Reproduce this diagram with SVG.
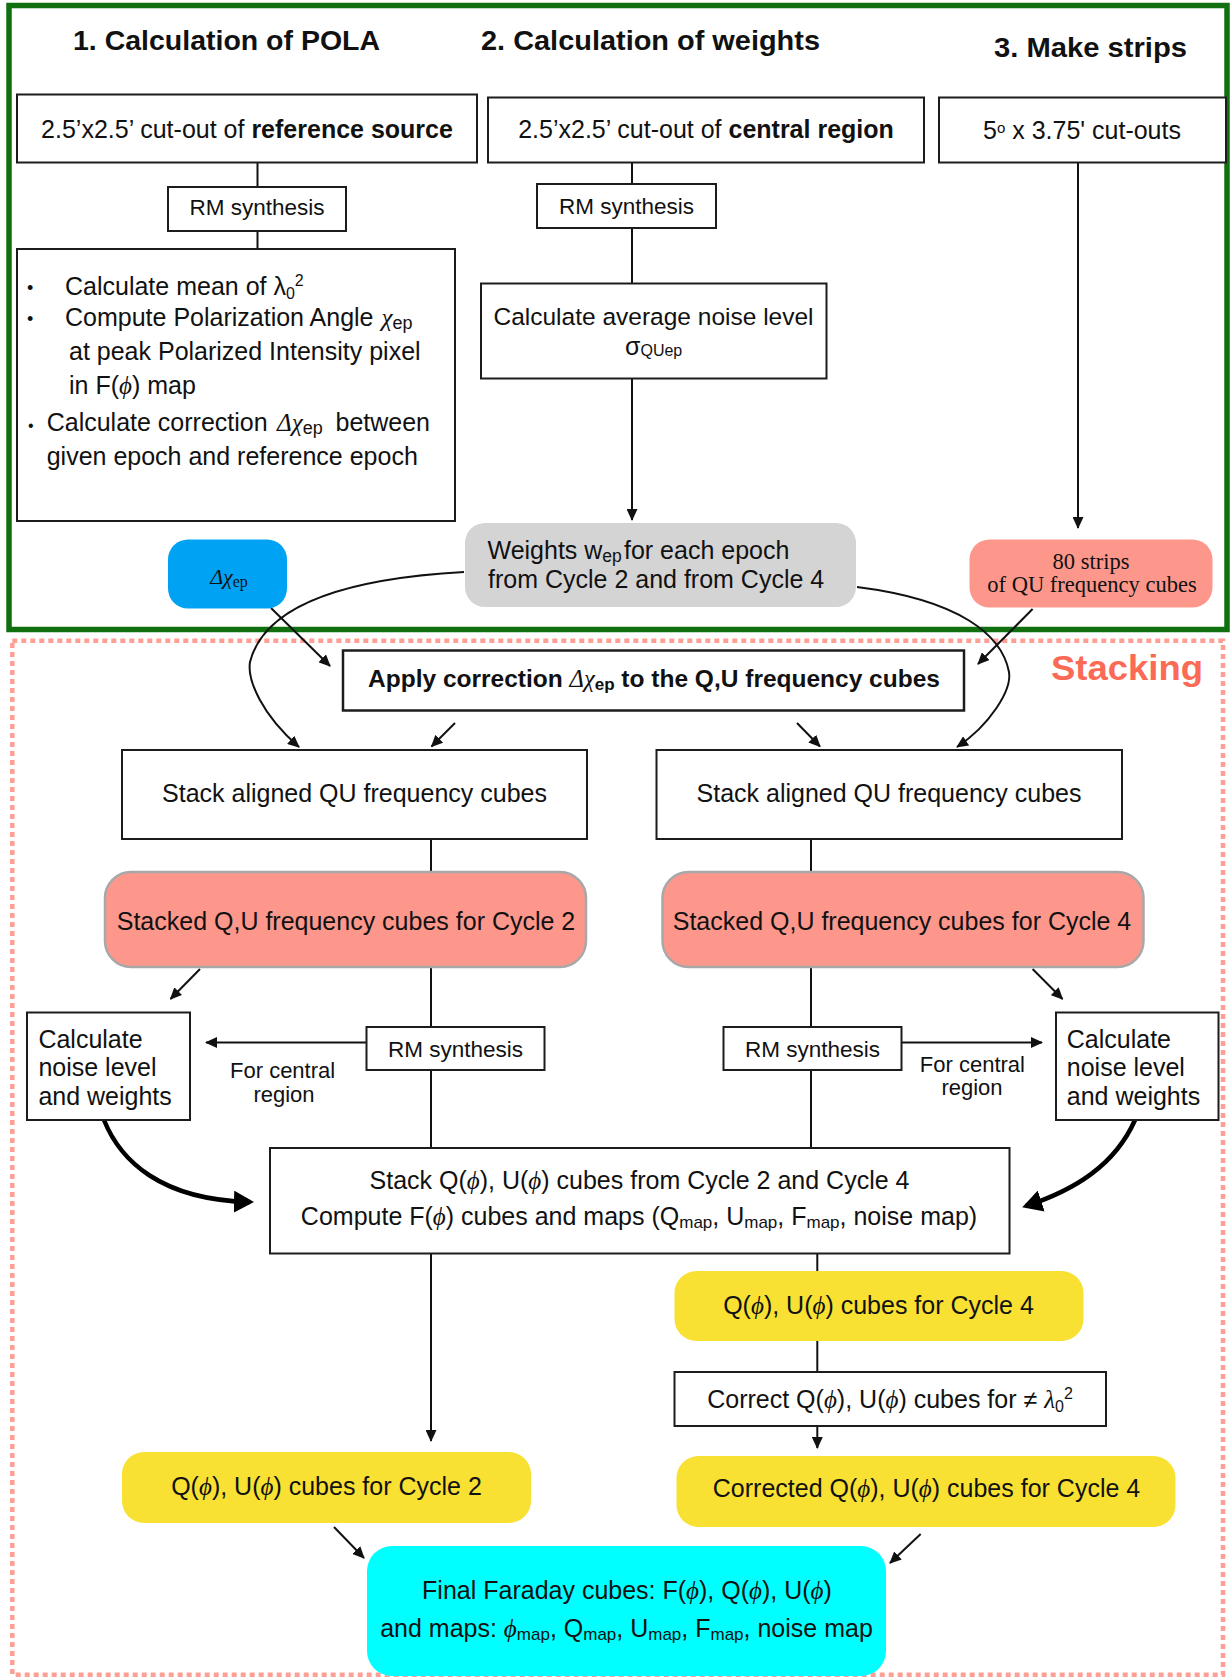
<svg xmlns="http://www.w3.org/2000/svg" width="1231" height="1677" viewBox="0 0 1231 1677">
<defs>
<style>
text{font-family:"Liberation Sans",Arial,Helvetica,sans-serif;fill:#111;font-size:25px}
.h{font-size:27px;font-weight:bold}
.b{font-weight:bold}
.i{font-family:"Liberation Serif","DejaVu Serif",serif;font-style:italic}
.tm{font-family:"Liberation Serif","Times New Roman",serif}
.m{text-anchor:middle}
.rm{font-size:22.5px}
.fc{font-size:22px}
.box{fill:#fff;stroke:#1c1c1c;stroke-width:2}
.ln{fill:none;stroke:#111;stroke-width:2}
.ar{fill:none;stroke:#111;stroke-width:2;marker-end:url(#ah)}
.thk{fill:none;stroke:#000;stroke-width:4.5;marker-end:url(#ahb)}
.salmon{fill:#fd978b}
.yel{fill:#f8e133}
</style>
<marker id="ah" viewBox="0 0 12 11" refX="11" refY="5.5" markerWidth="12" markerHeight="11" markerUnits="userSpaceOnUse" orient="auto"><path d="M0,0 L12,5.5 L0,11 z" fill="#111"/></marker>
<marker id="ahb" viewBox="0 0 20 22" refX="16" refY="11" markerWidth="20" markerHeight="22" markerUnits="userSpaceOnUse" orient="auto"><path d="M0,0 L20,11 L0,22 z" fill="#000"/></marker>
</defs>
<rect width="1231" height="1677" fill="#fff"/>

<g id="frames">
<rect x="9" y="5.5" width="1218" height="624" fill="none" stroke="#107010" stroke-width="5.5"/>
<rect x="12.3" y="640.7" width="1210.7" height="1034" fill="none" stroke="#ff9e94" stroke-width="4.5" stroke-dasharray="5 4"/>
<text x="1051" y="680" style="font-size:35px;font-weight:bold;fill:#fa6a55" textLength="152" lengthAdjust="spacingAndGlyphs">Stacking</text>
</g>

<g id="headings">
<text class="h" x="73" y="50" textLength="307" lengthAdjust="spacingAndGlyphs">1. Calculation of POLA</text>
<text class="h" x="481" y="50" textLength="339" lengthAdjust="spacingAndGlyphs">2. Calculation of weights</text>
<text class="h" x="994" y="57" textLength="193" lengthAdjust="spacingAndGlyphs">3. Make strips</text>
</g>

<g id="connectors">
<path class="ln" d="M257.5,162.5 V187"/>
<path class="ln" d="M257.5,231 V249"/>
<path class="ln" d="M632,162.5 V184"/>
<path class="ln" d="M632,228 V283.5"/>
<path class="ar" d="M632,378.5 V520"/>
<path class="ar" d="M1078,162.5 V528"/>
<path class="ar" d="M271,608 L330,666"/>
<path class="ar" d="M464,572 C320,580 262,615 250,662 C247,680 262,715 299,747"/>
<path class="ar" d="M857,587 C960,600 1002,635 1009,672 C1012,690 990,725 957,747"/>
<path class="ar" d="M1032.6,609 L978,664"/>
<path class="ar" d="M455,723 L431.5,746.5"/>
<path class="ar" d="M797,723 L820,746.5"/>
<path class="ln" d="M431,839 V872"/>
<path class="ln" d="M811,839 V872"/>
<path class="ar" d="M200,969 L170.5,999"/>
<path class="ln" d="M431,967 V1027"/>
<path class="ar" d="M366.5,1042.5 H206"/>
<path class="ln" d="M431,1070 V1148"/>
<path class="thk" d="M104,1120 C120,1160 160,1200 250,1202"/>
<path class="ar" d="M1032.6,969 L1062.5,999"/>
<path class="ln" d="M811,967 V1027"/>
<path class="ar" d="M901.5,1042.5 H1042"/>
<path class="ln" d="M811,1070 V1148"/>
<path class="thk" d="M1135,1120 C1115,1165 1075,1190 1026,1206"/>
<path class="ar" d="M431,1253.5 V1441"/>
<path class="ln" d="M817.3,1253.5 V1271"/>
<path class="ln" d="M817.3,1341 V1372"/>
<path class="ar" d="M817.3,1426 V1448"/>
<path class="ar" d="M334,1527 L364,1558"/>
<path class="ar" d="M920.7,1534 L890,1563"/>
</g>

<g id="cutout-ref">
<rect class="box" x="17" y="94.5" width="460" height="68"/>
<text class="m" x="247" y="138">2.5’x2.5’ cut-out of <tspan class="b">reference source</tspan></text>
</g>
<g id="rm1">
<rect class="box" x="168" y="187" width="178" height="44"/>
<text class="m rm" x="257" y="215">RM synthesis</text>
</g>
<g id="pola-steps">
<rect class="box" x="17" y="249" width="438" height="272"/>
<text x="27" y="294" style="font-size:18px">•</text>
<text x="65" y="295">Calculate mean of λ<tspan font-size="16" dy="4">0</tspan><tspan font-size="16" dy="-13">2</tspan></text>
<text x="27" y="325" style="font-size:18px">•</text>
<text x="65" y="326">Compute Polarization Angle <tspan class="i" x="381.5">χ</tspan><tspan font-size="18" dy="3">ep</tspan></text>
<text x="69" y="360">at peak Polarized Intensity pixel</text>
<text x="69" y="394">in F(<tspan class="i">ϕ</tspan>) map</text>
<text x="28" y="431" style="font-size:16px">•</text>
<text x="46.7" y="431">Calculate correction <tspan class="i" x="277">Δχ</tspan><tspan font-size="18" dy="3">ep</tspan><tspan x="335.5" dy="-3">between</tspan></text>
<text x="46.7" y="465">given epoch and reference epoch</text>
</g>

<g id="cutout-central">
<rect class="box" x="488" y="97.5" width="436" height="65"/>
<text class="m" x="706" y="138">2.5’x2.5’ cut-out of <tspan class="b">central region</tspan></text>
</g>
<g id="rm2">
<rect class="box" x="537" y="184" width="179" height="44"/>
<text class="m rm" x="626.5" y="213.5">RM synthesis</text>
</g>
<g id="noise-avg">
<rect class="box" x="481" y="283.5" width="345.5" height="95"/>
<text class="m" x="653.5" y="325" style="font-size:24.5px">Calculate average noise level</text>
<text x="625" y="355">σ<tspan font-size="16" dy="1">QUep</tspan></text>
</g>
<g id="weights">
<rect x="465" y="523" width="391" height="84" rx="20" fill="#d4d4d4"/>
<text y="558.5"><tspan x="487.5">Weights w</tspan><tspan font-size="17.5" dy="3">ep</tspan><tspan x="624" dy="-3">for each epoch</tspan></text>
<text x="488" y="587.5">from Cycle 2 and from Cycle 4</text>
</g>

<g id="cutout-strips">
<rect class="box" x="939" y="97.5" width="287" height="65"/>
<text class="m" x="1082" y="138.5">5<tspan font-size="15" dy="-6">o</tspan><tspan dy="6"> x 3.75' cut-outs</tspan></text>
</g>
<g id="strips">
<rect class="salmon" x="969.5" y="539.5" width="243" height="68" rx="20"/>
<text class="tm m" x="1091" y="568.5" style="font-size:22.5px">80 strips</text>
<text class="tm m" x="1092" y="592" style="font-size:22.5px">of QU frequency cubes</text>
</g>
<g id="delta-chi">
<rect x="168" y="539.5" width="119" height="69" rx="20" fill="#00a3f3"/>
<text class="m" x="229" y="583.5" style="font-size:22px"><tspan class="i">Δχ</tspan><tspan class="tm" font-size="16" dy="3">ep</tspan></text>
</g>

<g id="apply">
<rect class="box" x="343" y="650.5" width="621" height="60" style="stroke-width:2.5"/>
<text class="m b" x="654" y="687" style="font-size:24.5px">Apply correction <tspan class="i" font-weight="normal">Δχ</tspan><tspan font-size="17" dy="3">ep</tspan><tspan dy="-3"> to the Q,U frequency cubes</tspan></text>
</g>
<g id="stack1">
<rect class="box" x="122" y="750" width="465" height="89"/>
<text class="m" x="354.5" y="802">Stack aligned QU frequency cubes</text>
</g>
<g id="stack2">
<rect class="box" x="656.5" y="750" width="465.5" height="89"/>
<text class="m" x="889" y="802">Stack aligned QU frequency cubes</text>
</g>
<g id="stacked2">
<rect class="salmon" x="105" y="872" width="481" height="95" rx="26" stroke="#a8a8a8" stroke-width="2.5"/>
<text class="m" x="346" y="930">Stacked Q,U frequency cubes for Cycle 2</text>
</g>
<g id="stacked4">
<rect class="salmon" x="662.5" y="872" width="481" height="95" rx="26" stroke="#a8a8a8" stroke-width="2.5"/>
<text class="m" x="902" y="930">Stacked Q,U frequency cubes for Cycle 4</text>
</g>
<g id="rm3">
<rect class="box" x="366.5" y="1027" width="178" height="43"/>
<text class="m rm" x="455.5" y="1057">RM synthesis</text>
</g>
<g id="rm4">
<rect class="box" x="723.5" y="1027" width="178" height="43"/>
<text class="m rm" x="812.5" y="1057">RM synthesis</text>
</g>
<g id="label-central-left">
<text class="m fc" x="282.6" y="1077.5">For central</text>
<text class="m fc" x="284" y="1102">region</text>
</g>
<g id="label-central-right">
<text class="m fc" x="972.4" y="1072">For central</text>
<text class="m fc" x="972" y="1095">region</text>
</g>
<g id="calc-left">
<rect class="box" x="27" y="1012.5" width="163" height="107.5"/>
<text x="38.4" y="1047.5">Calculate</text>
<text x="38.4" y="1076">noise level</text>
<text x="38.4" y="1105">and weights</text>
</g>
<g id="calc-right">
<rect class="box" x="1056" y="1012.5" width="162.5" height="107.5"/>
<text x="1066.8" y="1047.5">Calculate</text>
<text x="1066.8" y="1076">noise level</text>
<text x="1066.8" y="1105">and weights</text>
</g>
<g id="stack-faraday">
<rect class="box" x="270" y="1148" width="739.5" height="105.5"/>
<text class="m" x="639.5" y="1188.5">Stack Q(<tspan class="i">ϕ</tspan>), U(<tspan class="i">ϕ</tspan>) cubes from Cycle 2 and Cycle 4</text>
<text class="m" x="639" y="1225">Compute F(<tspan class="i">ϕ</tspan>) cubes and maps (Q<tspan font-size="17" dy="3">map</tspan><tspan dy="-3">, U</tspan><tspan font-size="17" dy="3">map</tspan><tspan dy="-3">, F</tspan><tspan font-size="17" dy="3">map</tspan><tspan dy="-3">, noise map)</tspan></text>
</g>
<g id="qu4">
<rect class="yel" x="674.5" y="1271" width="409" height="70" rx="22"/>
<text class="m" x="878.5" y="1313.5">Q(<tspan class="i">ϕ</tspan>), U(<tspan class="i">ϕ</tspan>) cubes for Cycle 4</text>
</g>
<g id="correct">
<rect class="box" x="674.5" y="1372" width="431.5" height="54"/>
<text class="m" x="890" y="1407.5">Correct Q(<tspan class="i">ϕ</tspan>), U(<tspan class="i">ϕ</tspan>) cubes for ≠ <tspan class="i">λ</tspan><tspan font-size="16" dy="4">0</tspan><tspan font-size="16" dy="-13">2</tspan></text>
</g>
<g id="corrected4">
<rect class="yel" x="676.5" y="1456" width="499" height="71" rx="22"/>
<text class="m" x="926.5" y="1497">Corrected Q(<tspan class="i">ϕ</tspan>), U(<tspan class="i">ϕ</tspan>) cubes for Cycle 4</text>
</g>
<g id="qu2">
<rect class="yel" x="122" y="1452" width="409" height="71" rx="22"/>
<text class="m" x="326.5" y="1495">Q(<tspan class="i">ϕ</tspan>), U(<tspan class="i">ϕ</tspan>) cubes for Cycle 2</text>
</g>
<g id="final">
<rect x="367" y="1546" width="519" height="130" rx="25" fill="#00ffff"/>
<text class="m" x="627" y="1598.5">Final Faraday cubes: F(<tspan class="i">ϕ</tspan>), Q(<tspan class="i">ϕ</tspan>), U(<tspan class="i">ϕ</tspan>)</text>
<text class="m" x="626.5" y="1637">and maps: <tspan class="i">ϕ</tspan><tspan font-size="17" dy="3">map</tspan><tspan dy="-3">, Q</tspan><tspan font-size="17" dy="3">map</tspan><tspan dy="-3">, U</tspan><tspan font-size="17" dy="3">map</tspan><tspan dy="-3">, F</tspan><tspan font-size="17" dy="3">map</tspan><tspan dy="-3">, noise map</tspan></text>
</g>
</svg>
